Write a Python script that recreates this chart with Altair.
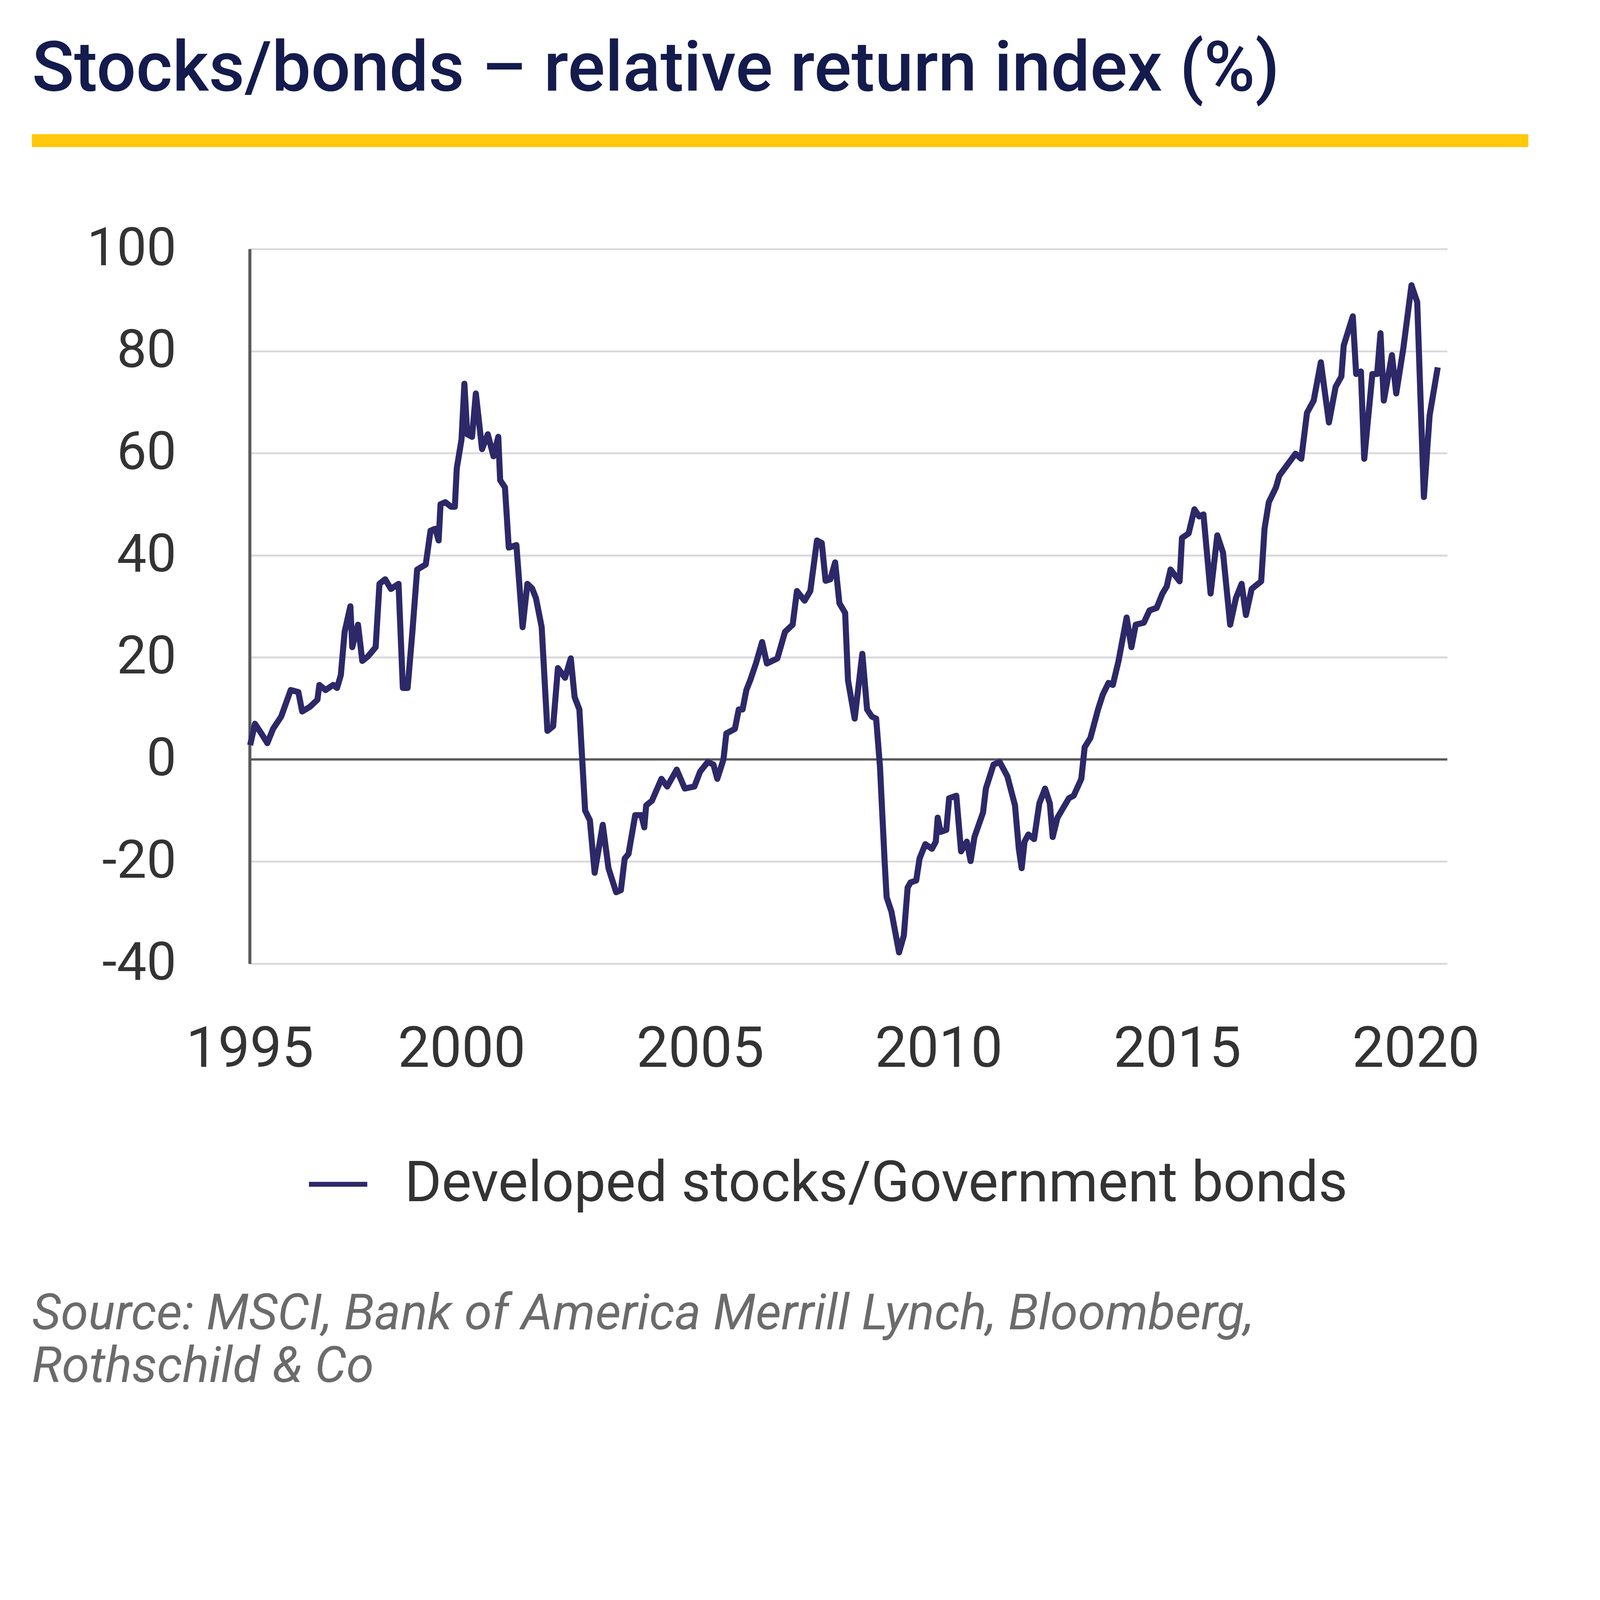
import altair as alt
import pandas as pd

# ---- data ----
years = [
    1995.57, 1995.67, 1995.81, 1995.93, 1996.05, 1996.22, 1996.42, 1996.58, 1996.66, 1996.82,
    1996.98, 1997.02, 1997.15, 1997.31, 1997.39, 1997.47, 1997.55, 1997.67, 1997.71, 1997.83,
    1997.92, 1998.04, 1998.20, 1998.28, 1998.40, 1998.52, 1998.68, 1998.77, 1998.87, 1998.97,
    1999.07, 1999.25, 1999.35, 1999.45, 1999.52, 1999.56, 1999.66, 1999.78, 1999.86, 1999.90,
    2000.00, 2000.06, 2000.12, 2000.22, 2000.30, 2000.43, 2000.55, 2000.67, 2000.77, 2000.81,
    2000.91, 2000.99, 2001.15, 2001.28, 2001.38, 2001.48, 2001.56, 2001.68, 2001.80, 2001.92,
    2002.02, 2002.17, 2002.29, 2002.37, 2002.47, 2002.59, 2002.69, 2002.79, 2002.96, 2003.08,
    2003.24, 2003.34, 2003.42, 2003.50, 2003.64, 2003.77, 2003.83, 2003.87, 2003.99, 2004.19,
    2004.31, 2004.51, 2004.68, 2004.88, 2005.00, 2005.16, 2005.28, 2005.36, 2005.49, 2005.55,
    2005.73, 2005.81, 2005.89, 2005.97, 2006.05, 2006.17, 2006.30, 2006.40, 2006.62, 2006.78,
    2006.94, 2007.03, 2007.19, 2007.31, 2007.45, 2007.55, 2007.63, 2007.73, 2007.83, 2007.92,
    2008.04, 2008.10, 2008.24, 2008.40, 2008.50, 2008.60, 2008.69, 2008.77, 2008.87, 2008.91,
    2009.01, 2009.17, 2009.27, 2009.35, 2009.41, 2009.53, 2009.60, 2009.72, 2009.86, 2009.94,
    2009.98, 2010.04, 2010.16, 2010.22, 2010.37, 2010.47, 2010.59, 2010.67, 2010.75, 2010.93,
    2010.99, 2011.15, 2011.28, 2011.44, 2011.60, 2011.68, 2011.74, 2011.80, 2011.88, 2012.00,
    2012.11, 2012.23, 2012.33, 2012.39, 2012.49, 2012.61, 2012.73, 2012.83, 2012.99, 2013.06,
    2013.18, 2013.34, 2013.44, 2013.56, 2013.65, 2013.77, 2013.94, 2014.04, 2014.13, 2014.30,
    2014.42, 2014.57, 2014.69, 2014.78, 2014.86, 2015.05, 2015.10, 2015.24, 2015.36, 2015.46,
    2015.55, 2015.70, 2015.84, 2015.96, 2016.11, 2016.23, 2016.35, 2016.44, 2016.56, 2016.76,
    2016.83, 2016.92, 2017.07, 2017.14, 2017.33, 2017.48, 2017.60, 2017.72, 2017.86, 2018.01,
    2018.18, 2018.32, 2018.44, 2018.49, 2018.68, 2018.75, 2018.85, 2018.92, 2019.09, 2019.19,
    2019.26, 2019.33, 2019.50, 2019.59, 2019.74, 2019.91, 2020.03, 2020.17, 2020.29, 2020.46,
]
values = [
    2.8, 7.0, 5.0, 3.2, 6.0, 8.4, 13.6, 13.2, 9.4, 10.3,
    11.7, 14.6, 13.6, 14.6, 14.0, 16.5, 25.0, 30.0, 22.0, 26.4,
    19.3, 20.2, 22.0, 34.4, 35.3, 33.4, 34.4, 14.0, 14.0, 25.0,
    37.2, 38.2, 44.8, 45.2, 42.9, 50.0, 50.4, 49.5, 49.5, 57.0,
    62.7, 73.6, 63.7, 63.2, 71.7, 60.8, 63.7, 59.4, 63.2, 54.7,
    53.3, 41.5, 42.0, 25.9, 34.4, 33.5, 31.6, 25.9, 5.6, 6.5,
    17.9, 16.0, 19.8, 12.2, 9.8, -10.0, -11.9, -22.2, -12.8, -21.3,
    -26.0, -25.6, -19.4, -18.5, -10.9, -10.9, -13.3, -9.0, -8.1, -3.8,
    -5.3, -2.0, -5.7, -5.3, -2.4, -0.5, -1.0, -3.8, 0.0, 5.1,
    6.0, 9.8, 9.8, 13.6, 15.5, 18.8, 23.0, 18.8, 19.8, 25.0,
    26.4, 33.0, 31.1, 33.0, 42.9, 42.4, 35.0, 35.3, 38.6, 30.6,
    28.7, 15.5, 8.0, 20.7, 9.8, 8.4, 8.0, -1.4, -20.4, -27.0,
    -29.8, -37.8, -34.5, -25.1, -24.1, -23.7, -19.4, -16.6, -17.5, -16.1,
    -11.4, -14.2, -13.8, -7.6, -7.1, -18.0, -16.1, -19.9, -15.2, -10.4,
    -5.7, -1.0, -0.5, -3.3, -9.0, -17.5, -21.3, -16.1, -14.7, -15.6,
    -8.6, -5.7, -8.6, -15.2, -11.4, -9.5, -7.6, -7.1, -3.8, 2.4,
    4.2, 9.8, 12.7, 15.0, 14.6, 19.3, 27.8, 22.0, 26.4, 26.8,
    29.2, 29.7, 32.5, 33.9, 37.2, 34.9, 43.4, 44.3, 49.0, 47.6,
    48.0, 32.5, 43.9, 40.5, 26.4, 31.6, 34.4, 28.3, 33.4, 34.9,
    45.2, 50.4, 53.3, 55.6, 58.0, 59.9, 58.9, 67.9, 70.3, 77.8,
    66.0, 73.0, 75.0, 81.1, 86.8, 75.5, 76.0, 58.9, 75.5, 75.5,
    83.5, 70.3, 79.2, 71.7, 80.6, 92.9, 89.6, 51.4, 67.4, 76.8,
]
series_name = "Developed stocks/Government bonds"
x_tick_values = [1995.56, 2000, 2005, 2010, 2015, 2020]
y_tick_values = [-40, -20, 0, 20, 40, 60, 80, 100]
title_text = "Stocks/bonds \u2013 relative return index (%)"
source_text = "Source: MSCI, Bank of America Merrill Lynch, Bloomberg,\nRothschild & Co"

df = pd.DataFrame({"year": years, "value": values, "series": series_name})

W, H = 3162, 1887
TOP = 580
LINE_COLOR = "#2d2868"
FONT = "Roboto"

x_enc = alt.X(
    "year:Q",
    scale=alt.Scale(domain=[1995.56, 2020.66], nice=False, zero=False),
    axis=alt.Axis(
        values=x_tick_values,
        labelExpr="datum.value < 1999 ? '1995' : toString(datum.value)",
        title=None, grid=False, ticks=False, domain=False,
        labelFontSize=150, labelColor="#333333", labelFont=FONT,
        labelPadding=153, labelFlush=False, labelOverlap=False, labelLimit=2000,
    ),
)
y_enc = alt.Y(
    "value:Q",
    scale=alt.Scale(domain=[-40, 100], nice=False),
    axis=alt.Axis(
        values=y_tick_values, title=None, ticks=False,
        labelExpr="toString(datum.value)",
        grid=True, gridColor="#d9d9d9", gridWidth=5,
        domain=True, domainColor="#595959", domainWidth=8,
        labelFontSize=140, labelColor="#333333", labelFont=FONT,
        labelPadding=194, labelLimit=2000,
    ),
)

line = alt.Chart(df).mark_line(strokeWidth=16, strokeJoin="round").encode(
    x=x_enc,
    y=y_enc,
    color=alt.Color(
        "series:N",
        scale=alt.Scale(domain=[series_name], range=[LINE_COLOR]),
        legend=alt.Legend(
            title=None, orient="none", legendX=150, legendY=2386,
            direction="horizontal", symbolType="stroke",
            symbolSize=154 * 154, symbolStrokeWidth=13, padding=0,
            labelFontSize=149, labelColor="#333333", labelFont=FONT,
            labelOffset=92, labelLimit=4000,
        ),
    ),
)

zero_line = alt.Chart(pd.DataFrame({"z": [0]})).mark_rule(
    color="#595959", strokeWidth=6
).encode(y=alt.Y("z:Q", scale=alt.Scale(domain=[-40, 100], nice=False)))

title_mark = alt.Chart(pd.DataFrame({"t": [title_text]})).mark_text(
    align="left", baseline="alphabetic", font=FONT, fontSize=184,
    fontWeight=500, color="#141b4d",
).encode(text="t:N", x=alt.value(84 - 659), y=alt.value(238 - 656))

yellow_rule = alt.Chart(pd.DataFrame({"r": [1]})).mark_rule(
    color="#FFC80A", strokeWidth=34
).encode(x=alt.value(84 - 659), x2=alt.value(4035 - 659), y=alt.value(370 - 656))

source_mark = alt.Chart(pd.DataFrame({"s": [source_text]})).mark_text(
    align="left", baseline="alphabetic", font=FONT, fontSize=132,
    fontStyle="italic", color="#6b6b6b", lineBreak="\n", lineHeight=140,
).encode(text="s:N", x=alt.value(84 - 659), y=alt.value(3508 - 656))

chart = alt.layer(zero_line, line, yellow_rule, title_mark, source_mark).properties(
    width=W, height=H,
    autosize=alt.AutoSizeParams(type="none"),
    padding={"left": 651, "top": TOP, "right": 395, "bottom": 4405 - TOP - H},
    background="white",
).configure_view(stroke=None)

chart.save("out.html", embed_options={"renderer": "svg", "actions": False})
